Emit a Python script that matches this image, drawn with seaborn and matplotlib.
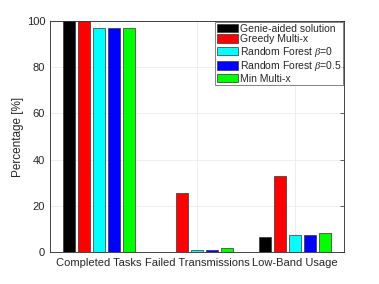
import matplotlib
matplotlib.use("Agg")
import matplotlib.pyplot as plt
import seaborn as sns
import pandas as pd

# datos del gráfico
categories = ["Completed Tasks", "Failed Transmissions", "Low-Band Usage"]
methods = ["Genie-aided solution", "Greedy Multi-x", r"Random Forest $\beta$=0",
           r"Random Forest $\beta$=0.5", "Min Multi-x"]
genie = [100, 0.2, 6.7]
greedy = [100, 25.6, 32.8]
rf_b0 = [96.9, 1.0, 7.4]
rf_b05 = [96.9, 1.0, 7.4]
min_multi = [96.9, 1.8, 8.3]
colors = ["#000000", "#ff0000", "#00ffff", "#0000ff", "#00ff00"]

series = [genie, greedy, rf_b0, rf_b05, min_multi]
rows = []
for m, vals in zip(methods, series):
    for c, v in zip(categories, vals):
        rows.append({"Category": c, "Method": m, "Value": v})
df = pd.DataFrame(rows)

sns.set_style("white")
plt.rcParams['font.family'] = ['Liberation Sans', 'DejaVu Sans']
plt.rcParams['mathtext.fontset'] = 'custom'
plt.rcParams['mathtext.it'] = 'Liberation Serif:italic'

fig = plt.figure(figsize=(3.79, 2.84), dpi=100)
ax = fig.add_axes([0.132, 0.112, 0.776, 0.814])

sns.barplot(data=df, x="Category", y="Value", hue="Method", order=categories,
            hue_order=methods, palette=colors, saturation=1, width=0.77, gap=0.2,
            edgecolor="#333333", linewidth=0.5, ax=ax, zorder=3)

ax.set_xlim(-0.5, 2.5)
ax.set_ylim(0, 100)
ax.set_yticks([0, 20, 40, 60, 80, 100])
ax.set_xlabel("")
ax.set_ylabel("Percentage [%]", fontsize=8.5, color="#262626", labelpad=2)
ax.grid(True, color="#ebebeb", linewidth=0.6, zorder=0)
ax.set_axisbelow(True)
ax.tick_params(axis='both', direction='in', labelsize=8, colors="#262626",
               length=3, width=0.5, right=True, top=False)
ax.tick_params(axis='x', length=0, pad=4)
for s in ax.spines.values():
    s.set_visible(True)
    s.set_color("#262626")
    s.set_linewidth(0.6)

leg = ax.legend(loc="upper right", fontsize=7.5, frameon=True, fancybox=False,
                borderaxespad=0.1, handlelength=2.0, handleheight=0.9,
                handletextpad=0.2, labelspacing=0.05, borderpad=0.15,
                title=None)
leg.get_frame().set_edgecolor("#262626")
leg.get_frame().set_linewidth(0.5)

fig.savefig("out.png", dpi=100)
